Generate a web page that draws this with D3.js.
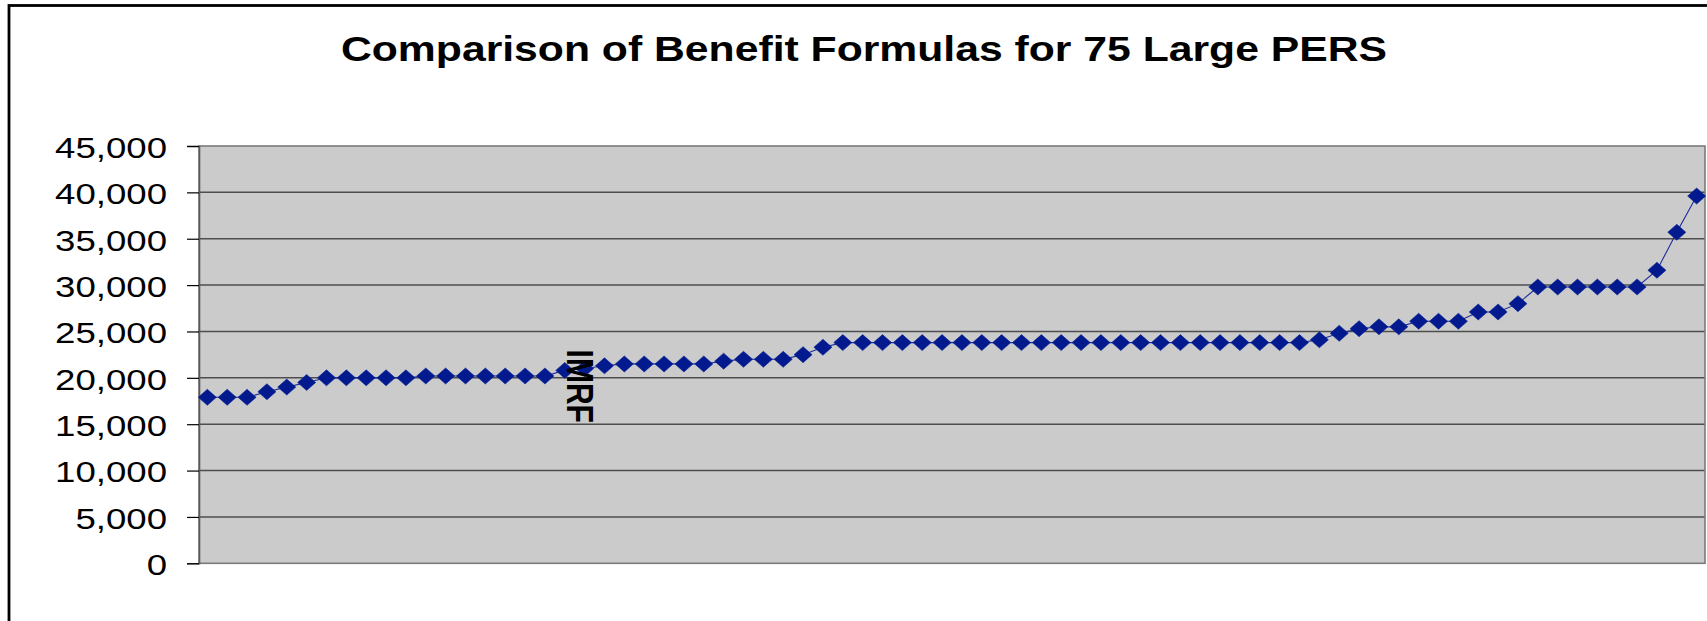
<!DOCTYPE html>
<html>
<head>
<meta charset="utf-8">
<script src="https://cdn.jsdelivr.net/npm/d3@7"></script>
<style>
  html, body { margin: 0; padding: 0; background: #ffffff; }
  svg { display: block; }
</style>
</head>
<body>
<svg id="chart" width="1707" height="621"></svg>
<script>
// Annual benefit produced by each system's formula, sorted ascending
const plans = d3.range(1, 77);
const benefits = [
  17900, 17900, 17900, 18500, 19000, 19500, 20000, 20000, 20000, 20000,
  20000, 20200, 20200, 20200, 20200, 20200, 20200, 20200, 20800, 21000,
  21300, 21500, 21500, 21500, 21500, 21500, 21800, 22000, 22000, 22000,
  22500, 23300, 23800, 23800, 23800, 23800, 23800, 23800, 23800, 23800,
  23800, 23800, 23800, 23800, 23800, 23800, 23800, 23800, 23800, 23800,
  23800, 23800, 23800, 23800, 23800, 23800, 24100, 24800, 25300, 25500,
  25500, 26100, 26100, 26100, 27100, 27100, 28000, 29800, 29800, 29800,
  29800, 29800, 29800, 31600, 35700, 39600
];
const yTicks = [0, 5000, 10000, 15000, 20000, 25000, 30000, 35000, 40000, 45000];
const pointLabels = [{ plan: 20, text: "IMRF" }];
const titleText = "Comparison of Benefit Formulas for 75 Large PERS";

const data = plans.map((p, i) => ({ plan: p, value: benefits[i] }));

const svg = d3.select("#chart");
const plot = { left: 199, right: 1705, top: 146, bottom: 563.3 };
const stretch = 1.22;   // text is drawn slightly widened

// Outer chart frame (extends past the visible area on the right and bottom)
svg.append("rect")
  .attr("x", 9).attr("y", 5.5)
  .attr("width", 1760).attr("height", 680)
  .attr("fill", "#ffffff")
  .attr("stroke", "#000000")
  .attr("stroke-width", 2.8);

const x = d3.scalePoint()
  .domain(plans)
  .range([plot.left, plot.right])
  .padding(0.42);

const y = d3.scaleLinear()
  .domain([0, 45000])
  .range([plot.bottom, plot.top]);

// Plot area
svg.append("rect")
  .attr("x", plot.left).attr("y", plot.top)
  .attr("width", plot.right - plot.left)
  .attr("height", plot.bottom - plot.top)
  .attr("fill", "#cbcbcb");

// Horizontal gridlines
svg.append("g")
  .selectAll("line")
  .data(yTicks.filter(t => t > 0 && t < 45000))
  .join("line")
  .attr("x1", plot.left).attr("x2", plot.right)
  .attr("y1", d => y(d)).attr("y2", d => y(d))
  .attr("stroke", "#4e4e4e")
  .attr("stroke-width", 1.5);

// Plot border
svg.append("rect")
  .attr("x", plot.left).attr("y", plot.top)
  .attr("width", plot.right - plot.left)
  .attr("height", plot.bottom - plot.top)
  .attr("fill", "none")
  .attr("stroke", "#7a7a7a")
  .attr("stroke-width", 1.6);

// Value axis
const yAxis = d3.axisLeft(y)
  .tickValues(yTicks)
  .tickSize(12)
  .tickPadding(0)
  .tickFormat(d3.format(","));

const axisG = svg.append("g")
  .attr("transform", `translate(${plot.left},0)`)
  .call(yAxis);

axisG.select(".domain").attr("stroke", "#5a5a5a").attr("stroke-width", 1.6);
axisG.selectAll(".tick line").attr("stroke", "#000000").attr("stroke-width", 1.2);
axisG.selectAll(".tick text")
  .attr("x", null).attr("dy", null)
  .attr("text-anchor", "end")
  .attr("dominant-baseline", "central")
  .attr("transform", `translate(-32,1) scale(${stretch},1)`)
  .attr("fill", "#000000")
  .style("font-family", "'Liberation Sans', Arial, sans-serif")
  .style("font-size", "30px");

// Title
svg.append("text")
  .attr("transform", `translate(864,61) scale(${stretch},1)`)
  .attr("text-anchor", "middle")
  .style("font-family", "'Liberation Sans', Arial, sans-serif")
  .style("font-weight", "bold")
  .style("font-size", "35px")
  .attr("fill", "#000000")
  .text(titleText);

// Series line
const line = d3.line()
  .x(d => x(d.plan))
  .y(d => y(d.value));

svg.append("path")
  .datum(data)
  .attr("d", line)
  .attr("fill", "none")
  .attr("stroke", "#1c2c9c")
  .attr("stroke-width", 1.1);

// Diamond markers, a touch wider than tall
const wideDiamond = {
  draw(context, size) {
    const h = Math.sqrt(size) / 2;
    const w = h * 1.13;
    context.moveTo(0, -h);
    context.lineTo(w, 0);
    context.lineTo(0, h);
    context.lineTo(-w, 0);
    context.closePath();
  }
};

svg.append("g")
  .selectAll("path")
  .data(data)
  .join("path")
  .attr("transform", d => `translate(${x(d.plan)},${y(d.value)})`)
  .attr("d", d3.symbol().type(wideDiamond).size(256))
  .attr("fill", "#021a8e")
  .attr("stroke", "#0a2296")
  .attr("stroke-width", 0.6);

// Point label, rotated to read downward
svg.append("g")
  .selectAll("text")
  .data(pointLabels)
  .join("text")
  .attr("transform", d => {
    const v = benefits[plans.indexOf(d.plan)];
    return `translate(${x(d.plan) - 18},${y(v) - 19}) scale(${stretch},1) rotate(90)`;
  })
  .attr("text-anchor", "start")
  .attr("dominant-baseline", "auto")
  .style("font-family", "'Liberation Sans', Arial, sans-serif")
  .style("font-weight", "bold")
  .style("font-size", "30px")
  .attr("fill", "#000000")
  .text(d => d.text);
</script>
</body>
</html>
